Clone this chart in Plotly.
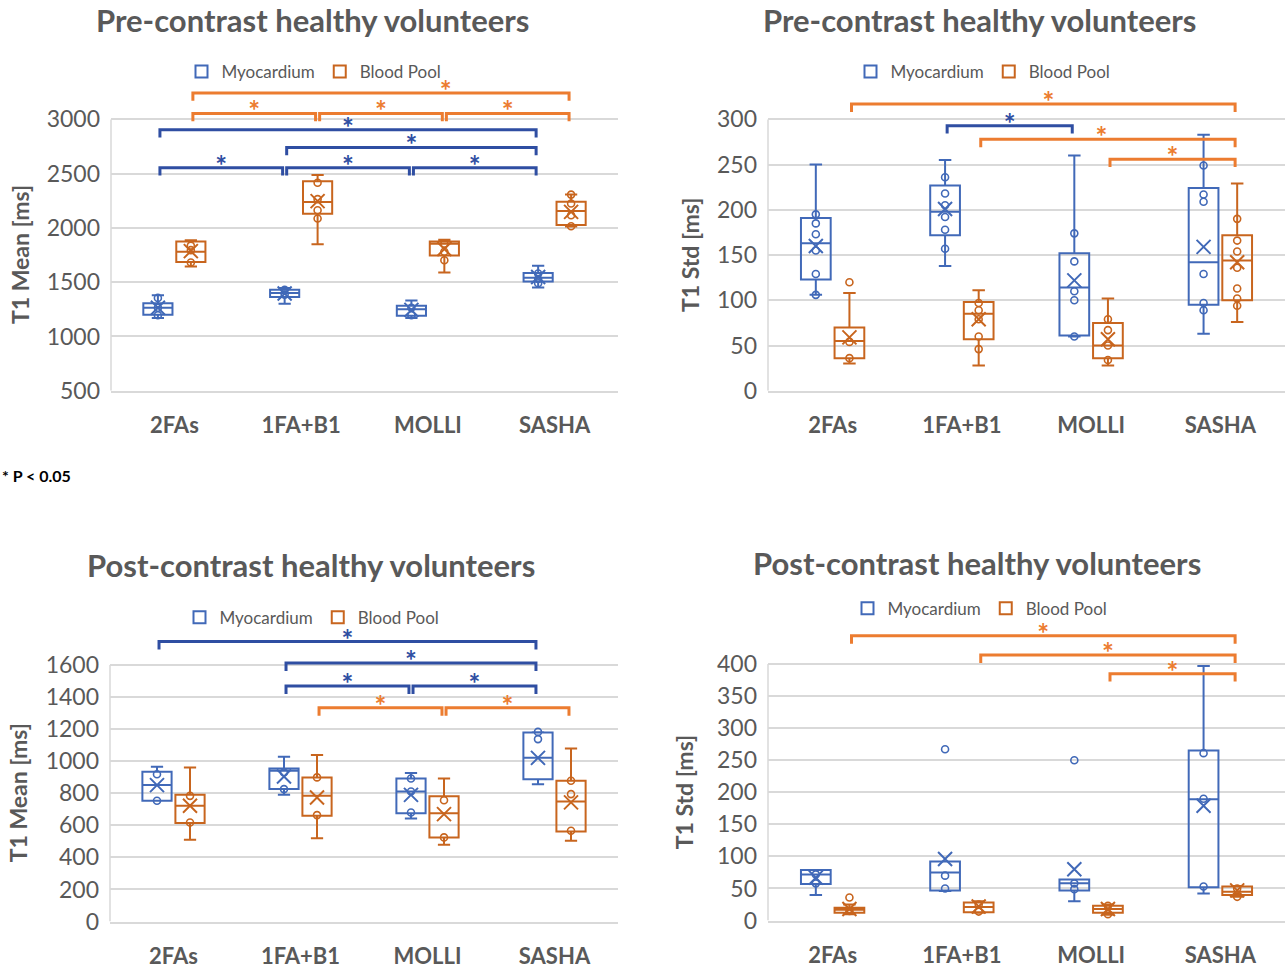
import plotly.graph_objects as go

W, H = 1285, 975

CATEGORIES = ["2FAs", "1FA+B1", "MOLLI", "SASHA"]
SERIES_NAMES = {"myo": "Myocardium", "bp": "Blood Pool"}

# Five-number summaries per method: [lower whisker, Q1, median, Q3, upper whisker]
# Pre-contrast, T1 mean [ms]
pre_mean_myo_box = [[1169, 1199, 1265, 1307, 1379], [1301, 1364, 1401, 1431, 1446],
                    [1169, 1190, 1250, 1283, 1331], [1452, 1506, 1540, 1584, 1651]]
pre_mean_myo_avg = [1265, 1395, 1245, 1548]
pre_mean_myo_pts = [[1355, 1265, 1195], [1430, 1385], [1265, 1195], [1580, 1530, 1490]]
pre_mean_bp_box = [[1645, 1687, 1780, 1874, 1886], [1849, 2130, 2238, 2431, 2488],
                   [1590, 1747, 1855, 1874, 1892], [2012, 2027, 2157, 2241, 2307]]
pre_mean_bp_avg = [1786, 2247, 1805, 2148]
pre_mean_bp_pts = [[1837, 1795, 1681], [2416, 2265, 2163, 2087], [1855, 1780, 1702],
                   [2307, 2225, 2117, 2015]]

# Pre-contrast, T1 std [ms]
pre_std_myo_box = [[106, 123, 163, 191, 250], [138, 172, 198, 227, 255],
                   [60, 61, 114, 152, 260], [63, 95, 142, 224, 283]]
pre_std_myo_avg = [160, 201, 122, 159]
pre_std_myo_pts = [[195, 185, 173, 155, 129, 106], [236, 218, 205, 192, 178, 157],
                   [174, 143, 110, 100, 60], [249, 217, 209, 129, 97, 89]]
pre_std_bp_box = [[30, 36, 55, 70, 108], [28, 57, 85, 98, 111],
                  [28, 36, 50, 75, 102], [76, 100, 144, 172, 229]]
pre_std_bp_avg = [59, 79, 57, 142]
pre_std_bp_pts = [[120, 54, 36], [97, 89, 79, 60, 46], [79, 67, 50, 34],
                  [190, 166, 154, 136, 113, 102, 94]]

# Post-contrast, T1 mean [ms]
post_mean_myo_box = [[753, 753, 851, 934, 965], [791, 826, 940, 955, 1028],
                     [643, 676, 811, 892, 926], [857, 888, 1021, 1179, 1180]]
post_mean_myo_avg = [851, 905, 790, 1021]
post_mean_myo_pts = [[919, 753], [930, 826], [892, 811, 680], [1183, 1138]]
post_mean_bp_box = [[510, 614, 722, 791, 961], [520, 660, 784, 899, 1038],
                    [479, 525, 676, 782, 892], [504, 562, 749, 878, 1079]]
post_mean_bp_avg = [722, 774, 670, 743]
post_mean_bp_pts = [[784, 618], [899, 664], [757, 525], [878, 795, 566]]

# Post-contrast, T1 std [ms]
post_std_myo_box = [[40, 57, 72, 79, 79], [46, 47, 75, 92, 92],
                    [30, 47, 58, 64, 64], [42, 52, 189, 265, 397]]
post_std_myo_avg = [67, 96, 80, 179]
post_std_myo_pts = [[72, 58], [267, 70, 50], [250, 58, 49], [261, 190, 53]]
post_std_bp_box = [[10, 12, 17, 20, 25], [12, 13, 21, 28, 30],
                   [9, 12, 18, 23, 25], [37, 40, 45, 53, 54]]
post_std_bp_avg = [18, 22, 18, 47]
post_std_bp_pts = [[36, 15], [25, 14], [23, 10], [50, 37]]

# Y tick labels
pre_mean_ticks = [500, 1000, 1500, 2000, 2500, 3000]
pre_std_ticks = [0, 50, 100, 150, 200, 250, 300]
post_mean_ticks = [0, 200, 400, 600, 800, 1000, 1200, 1400, 1600]
post_std_ticks = [0, 50, 100, 150, 200, 250, 300, 350, 400]

# Significance brackets: (first method, second method, series, bracket height,
# asterisk position along the category axis or None for the bracket centre)
pre_mean_brackets = [(1, 4, "bp", 3244, 3.14), (1, 2, "bp", 3055, None), (2, 3, "bp", 3055, None),
                     (3, 4, "bp", 3055, None), (1, 4, "myo", 2905, None), (2, 4, "myo", 2742, None),
                     (1, 2, "myo", 2555, None), (2, 3, "myo", 2555, None), (3, 4, "myo", 2555, None)]
pre_std_brackets = [(1, 4, "bp", 317, 2.67), (2, 3, "myo", 293, None), (2, 4, "bp", 278, 3.08),
                    (3, 4, "bp", 256, None)]
post_mean_brackets = [(1, 4, "myo", 1746, None), (2, 4, "myo", 1612, None), (2, 3, "myo", 1469, None),
                      (3, 4, "myo", 1469, None), (2, 3, "bp", 1333, None), (3, 4, "bp", 1333, None)]
post_std_brackets = [(1, 4, "bp", 444, None), (2, 4, "bp", 414, None), (3, 4, "bp", 385, None)]

# ---- styling ----
FONT = "Lato"
TEXT = "#595959"
GRID = "#D9D9D9"
BOX_COL = {"myo": "#4169B8", "bp": "#C8651E"}
BR_COL = {"myo": "#2F4EA2", "bp": "#EC7C30"}
OFFSET = {"myo": -0.13, "bp": 0.13}
BOX_W = 0.23

panels = [
    dict(title="Pre-contrast healthy volunteers", ytitle="T1 Mean [ms]",
         data={"myo": (pre_mean_myo_box, pre_mean_myo_avg, pre_mean_myo_pts),
               "bp": (pre_mean_bp_box, pre_mean_bp_avg, pre_mean_bp_pts)},
         ticks=pre_mean_ticks, top=3370, px=(111, 618), py=(396, 121),
         title_xy=(312, 20), legend_xy=(314, 73), ytitle_x=20, brackets=pre_mean_brackets),
    dict(title="Pre-contrast healthy volunteers", ytitle="T1 Std [ms]",
         data={"myo": (pre_std_myo_box, pre_std_myo_avg, pre_std_myo_pts),
               "bp": (pre_std_bp_box, pre_std_bp_avg, pre_std_bp_pts)},
         ticks=pre_std_ticks, top=335, px=(768, 1285), py=(396, 121),
         title_xy=(980, 20), legend_xy=(983, 73), ytitle_x=690, brackets=pre_std_brackets),
    dict(title="Post-contrast healthy volunteers", ytitle="T1 Mean [ms]",
         data={"myo": (post_mean_myo_box, post_mean_myo_avg, post_mean_myo_pts),
               "bp": (post_mean_bp_box, post_mean_bp_avg, post_mean_bp_pts)},
         ticks=post_mean_ticks, top=1830, px=(110, 618), py=(934, 674),
         title_xy=(311, 573), legend_xy=(312, 626), ytitle_x=18, brackets=post_mean_brackets),
    dict(title="Post-contrast healthy volunteers", ytitle="T1 Std [ms]",
         data={"myo": (post_std_myo_box, post_std_myo_avg, post_std_myo_pts),
               "bp": (post_std_bp_box, post_std_bp_avg, post_std_bp_pts)},
         ticks=post_std_ticks, top=462, px=(768, 1285), py=(933, 673),
         title_xy=(977, 571), legend_xy=(980, 617), ytitle_x=684, brackets=post_std_brackets),
]

fig = go.Figure()
annotations = []
shapes = []
layout = {}

for k, p in enumerate(panels, start=1):
    sfx = "" if k == 1 else str(k)
    xa, ya = f"x{sfx}", f"y{sfx}"
    leg = f"legend{sfx}"
    vmin, vmax = p["ticks"][0], p["ticks"][-1]
    ybot, ytick = p["py"]
    ppu = (ybot - ytick) / (vmax - vmin)          # pixels per data unit
    ytop_px = ytick - (p["top"] - vmax) * ppu
    positions = list(range(1, len(CATEGORIES) + 1))

    for s in ("myo", "bp"):
        box, avg, pts = p["data"][s]
        xs = [c + OFFSET[s] for c in positions]
        fig.add_trace(go.Box(
            x=xs, lowerfence=[b[0] for b in box], q1=[b[1] for b in box],
            median=[b[2] for b in box], q3=[b[3] for b in box],
            upperfence=[b[4] for b in box], orientation="v", width=BOX_W,
            whiskerwidth=0.42, boxpoints=False, fillcolor="rgba(0,0,0,0)",
            line=dict(color=BOX_COL[s], width=2), name=SERIES_NAMES[s],
            xaxis=xa, yaxis=ya, legend=leg, hoverinfo="skip"))
        px_, py_ = [], []
        for x, vals in zip(xs, pts):
            px_ += [x] * len(vals)
            py_ += vals
        fig.add_trace(go.Scatter(
            x=px_, y=py_, mode="markers", showlegend=False, xaxis=xa, yaxis=ya,
            marker=dict(symbol="circle-open", size=7, color=BOX_COL[s],
                        line=dict(width=1.6, color=BOX_COL[s])), hoverinfo="skip"))
        fig.add_trace(go.Scatter(
            x=xs, y=avg, mode="markers", showlegend=False, xaxis=xa, yaxis=ya,
            marker=dict(symbol="x-thin-open", size=14, color=BOX_COL[s],
                        line=dict(width=2, color=BOX_COL[s])), hoverinfo="skip"))

    # significance brackets with asterisks
    drop = 8 / ppu
    star_up = -1 / ppu
    inset = 0.016
    for s in ("myo", "bp"):
        bx, by, sx, sy = [], [], [], []
        for a, b, ser, lvl, star_x in p["brackets"]:
            if ser != s:
                continue
            x0 = a + OFFSET[s] + inset
            x1 = b + OFFSET[s] - inset
            bx += [x0, x0, x1, x1, None]
            by += [lvl - drop, lvl, lvl, lvl - drop, None]
            sx.append((x0 + x1) / 2 if star_x is None else star_x)
            sy.append(lvl + star_up)
        if not bx:
            continue
        fig.add_trace(go.Scatter(
            x=bx, y=by, mode="lines", showlegend=False, xaxis=xa, yaxis=ya,
            line=dict(color=BR_COL[s], width=3), cliponaxis=False, hoverinfo="skip"))
        fig.add_trace(go.Scatter(
            x=sx, y=sy, mode="text", text=["*"] * len(sx), textposition="middle center",
            textfont=dict(family=FONT, size=28, color=BR_COL[s], weight="bold"),
            showlegend=False, xaxis=xa, yaxis=ya, cliponaxis=False, hoverinfo="skip"))

    xdom = [p["px"][0] / W, min(p["px"][1] / W, 1.0)]
    ydom = [1 - ybot / H, 1 - ytop_px / H]
    layout[f"xaxis{sfx}"] = dict(
        domain=xdom, anchor=ya, range=[0.5, 4.5], tickvals=positions, ticktext=CATEGORIES,
        tickfont=dict(family=FONT, size=22, color=TEXT, weight="bold"),
        showgrid=False, zeroline=False, showline=True, linecolor=GRID, linewidth=1.5,
        ticks="", ticklabelstandoff=14, fixedrange=True)
    layout[f"yaxis{sfx}"] = dict(
        domain=ydom, anchor=xa, range=[vmin, p["top"]], tickvals=p["ticks"],
        tickfont=dict(family=FONT, size=23, color=TEXT),
        showgrid=True, gridcolor=GRID, gridwidth=1.5, zeroline=False, showline=False,
        ticks="", ticklabelstandoff=10, fixedrange=True)
    shapes.append(dict(type="line", xref=f"{xa} domain", x0=0, x1=0, yref=ya, y0=vmin, y1=vmax,
                       line=dict(color=GRID, width=1.5), layer="below"))

    # y-axis title centred on the tick span
    annotations.append(dict(
        text=f"<b>{p['ytitle']}</b>", textangle=-90, x=p["ytitle_x"] / W,
        y=1 - ((ybot + ytick) / 2) / H, xref="paper", yref="paper",
        xanchor="center", yanchor="middle", showarrow=False,
        font=dict(family=FONT, size=23, color=TEXT)))

    layout[leg] = dict(
        x=p["legend_xy"][0] / W, y=1 - p["legend_xy"][1] / H, xanchor="center", yanchor="middle",
        orientation="h", bgcolor="rgba(0,0,0,0)",
        font=dict(family=FONT, size=17, color=TEXT), itemclick=False, itemdoubleclick=False)

    annotations.append(dict(
        text=f"<b>{p['title']}</b>", x=p["title_xy"][0] / W, y=1 - p["title_xy"][1] / H,
        xref="paper", yref="paper", xanchor="center", yanchor="middle", showarrow=False,
        font=dict(family=FONT, size=31, color=TEXT)))

annotations.append(dict(
    text="<b>* P < 0.05</b>", x=0, y=1 - 482 / H, xref="paper", yref="paper",
    xanchor="left", yanchor="middle", showarrow=False,
    font=dict(family=FONT, size=16, color="#000000")))

fig.update_layout(
    width=W, height=H, margin=dict(l=0, r=0, t=0, b=0),
    paper_bgcolor="white", plot_bgcolor="white",
    font=dict(family=FONT, color=TEXT),
    annotations=annotations, shapes=shapes, **layout)

fig.write_html("out.html")
